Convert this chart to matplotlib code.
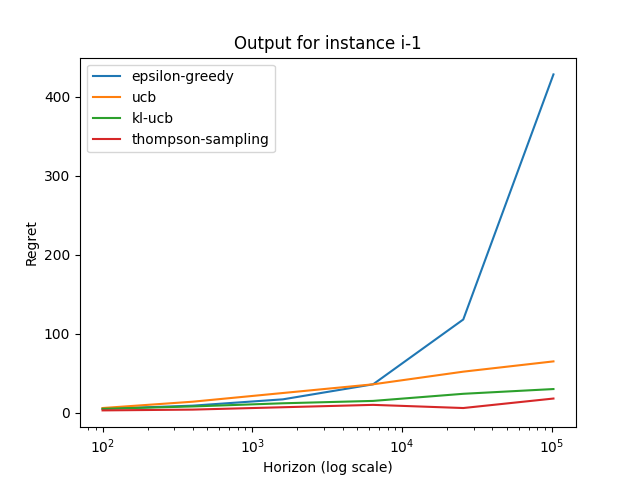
import matplotlib
matplotlib.use("Agg")
from matplotlib import pyplot as plt

horizons = [100, 400, 1600, 6400, 25600, 102400]
eps_greedy = [5, 9, 17, 36, 118, 428]
ucb = [6, 14, 25, 36, 52, 65]
kl_ucb = [5, 8, 12, 15, 24, 30]
thompson = [3, 4, 7, 10, 6, 18]

fig, ax = plt.subplots(figsize=(6.4, 4.8), dpi=100)
ax.plot(horizons, eps_greedy, label="epsilon-greedy")
ax.plot(horizons, ucb, label="ucb")
ax.plot(horizons, kl_ucb, label="kl-ucb")
ax.plot(horizons, thompson, label="thompson-sampling")
ax.set_xscale("log")
ax.set_title("Output for instance i-1")
ax.set_xlabel("Horizon (log scale)")
ax.set_ylabel("Regret")
ax.legend()
fig.savefig("out.png")
